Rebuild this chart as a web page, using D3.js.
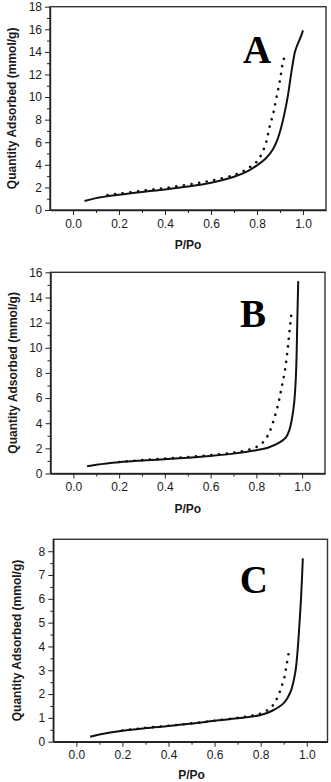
<!DOCTYPE html>
<html lang="en">
<head>
<meta charset="UTF-8">
<title>Isotherms A B C</title>
<style>
  body { margin: 0; background: #fff; }
  svg { display: block; font-family: "Liberation Sans", Arial, sans-serif; }
  .tick text { font-size: 12px; fill: #1a1a1a; }
  .axis path, .axis line { stroke: #222; }
  .ylab, .xlab { font-size: 12px; font-weight: bold; fill: #1a1a1a; }
  .tag { font-family: "Liberation Serif", "Times New Roman", serif; font-weight: bold; font-size: 39px; fill: #000; }
</style>
</head>
<body>
<div id="chart"></div>
<script src="https://d3js.org/d3.v7.min.js"></script>
<script>
// ---- data (P/Po vs quantity adsorbed, mmol/g) ----
const pA_solid = [0.05, 0.1, 0.2, 0.3, 0.4, 0.5, 0.6, 0.7, 0.76, 0.8, 0.84, 0.87, 0.89, 0.905, 0.92, 0.935, 0.945, 0.955, 0.965, 0.975, 0.99, 1.0];
const qA_solid = [0.8, 1.05, 1.35, 1.6, 1.82, 2.08, 2.42, 2.95, 3.45, 3.95, 4.6, 5.4, 6.3, 7.3, 8.6, 10.2, 11.6, 12.9, 14.0, 14.6, 15.3, 15.9];
const pA_dot = [0.15, 0.2, 0.3, 0.4, 0.5, 0.6, 0.7, 0.76, 0.8, 0.82, 0.84, 0.855, 0.87, 0.885, 0.9, 0.912, 0.923];
const qA_dot = [1.32, 1.45, 1.7, 1.95, 2.25, 2.6, 3.1, 3.68, 4.3, 4.95, 6.0, 7.4, 8.5, 10.0, 11.5, 13.0, 13.8];

const pB_solid = [0.06, 0.1, 0.2, 0.3, 0.4, 0.5, 0.6, 0.7, 0.8, 0.85, 0.9, 0.93, 0.945, 0.955, 0.965, 0.972, 0.976, 0.979, 0.983];
const qB_solid = [0.58, 0.7, 0.9, 1.03, 1.14, 1.26, 1.4, 1.58, 1.85, 2.05, 2.45, 2.9, 3.5, 4.3, 5.6, 7.4, 9.5, 12.2, 15.3];
const pB_dot = [0.2, 0.3, 0.4, 0.5, 0.6, 0.7, 0.75, 0.8, 0.83, 0.855, 0.875, 0.895, 0.91, 0.925, 0.935, 0.943, 0.95, 0.955];
const qB_dot = [0.92, 1.06, 1.18, 1.31, 1.46, 1.66, 1.82, 2.1, 2.5, 3.2, 4.2, 5.5, 6.8, 8.2, 9.6, 11.0, 12.2, 13.0];

const pC_solid = [0.06, 0.1, 0.2, 0.3, 0.4, 0.5, 0.6, 0.7, 0.8, 0.85, 0.9, 0.93, 0.95, 0.96, 0.968, 0.975, 0.983];
const qC_solid = [0.21, 0.3, 0.46, 0.57, 0.66, 0.76, 0.88, 0.98, 1.12, 1.3, 1.62, 2.1, 2.9, 3.8, 4.9, 6.0, 7.7];
const pC_dot = [0.2, 0.3, 0.4, 0.5, 0.6, 0.7, 0.75, 0.8, 0.83, 0.855, 0.875, 0.89, 0.903, 0.913, 0.922];
const qC_dot = [0.47, 0.58, 0.67, 0.77, 0.88, 1.0, 1.08, 1.18, 1.33, 1.55, 1.9, 2.3, 2.7, 3.25, 3.75];

const xTicks = [0.0, 0.2, 0.4, 0.6, 0.8, 1.0];
const xMinor = [0.1, 0.3, 0.5, 0.7, 0.9];
const yTicksA = d3.range(0, 19, 2);
const yTicksB = d3.range(0, 17, 2);
const yTicksC = d3.range(0, 9, 1);
const panelTags = ["A", "B", "C"];
const xTitle = "P/Po";
const yTitle = "Quantity Adsorbed (mmol/g)";

// panel frames in pixels
const panels = [
  { tag: panelTags[0], left: 50, right: 326, top: 6.7, bottom: 210, xMax: 1.1, yMax: 18,
    yTicks: yTicksA, yMinor: d3.range(1, 18, 2), tagAt: [0.80, 13.0],
    solid: [pA_solid, qA_solid], dot: [pA_dot, qA_dot], ylabX: 12, xlabDy: 39 },
  { tag: panelTags[1], left: 50.5, right: 325, top: 272.3, bottom: 473.5, xMax: 1.1, yMax: 16,
    yTicks: yTicksB, yMinor: d3.range(1, 16, 2), tagAt: [0.785, 11.65],
    solid: [pB_solid, qB_solid], dot: [pB_dot, qB_dot], ylabX: 13, xlabDy: 39 },
  { tag: panelTags[2], left: 53.3, right: 327.5, top: 539.3, bottom: 741.7, xMax: 1.09, yMax: 8.5,
    yTicks: yTicksC, yMinor: d3.range(0.5, 8.5, 1), tagAt: [0.77, 6.25],
    solid: [pC_solid, qC_solid], dot: [pC_dot, qC_dot], ylabX: 17, xlabDy: 37 }
];

const W = 331, H = 782;
const svg = d3.select("#chart").append("svg")
  .attr("width", W).attr("height", H);

panels.forEach(pn => {
  const x = d3.scaleLinear().domain([-0.1, pn.xMax]).range([pn.left, pn.right]);
  const y = d3.scaleLinear().domain([0, pn.yMax]).range([pn.bottom, pn.top]);
  const g = svg.append("g");

  // frame
  g.append("rect")
    .attr("x", pn.left).attr("y", pn.top)
    .attr("width", pn.right - pn.left).attr("height", pn.bottom - pn.top)
    .attr("fill", "none").attr("stroke", "#333").attr("stroke-width", 1.4);

  // x axis major + minor
  g.append("g").attr("class", "axis")
    .attr("transform", `translate(0,${pn.bottom})`)
    .call(d3.axisBottom(x).tickValues(xTicks).tickSize(5).tickSizeOuter(0).tickPadding(4)
      .tickFormat(d3.format(".1f")))
    .call(a => a.select(".domain").attr("stroke-width", 1.4));
  g.append("g").attr("class", "axis")
    .attr("transform", `translate(0,${pn.bottom})`)
    .call(d3.axisBottom(x).tickValues(xMinor).tickSize(3).tickSizeOuter(0).tickFormat(""))
    .call(a => a.select(".domain").remove());

  // y axis major + minor
  g.append("g").attr("class", "axis")
    .attr("transform", `translate(${pn.left},0)`)
    .call(d3.axisLeft(y).tickValues(pn.yTicks).tickSize(5).tickSizeOuter(0).tickPadding(3)
      .tickFormat(d3.format("d")))
    .call(a => a.select(".domain").attr("stroke-width", 1.4));
  g.append("g").attr("class", "axis")
    .attr("transform", `translate(${pn.left},0)`)
    .call(d3.axisLeft(y).tickValues(pn.yMinor).tickSize(3).tickSizeOuter(0).tickFormat(""))
    .call(a => a.select(".domain").remove());

  // titles
  g.append("text").attr("class", "xlab")
    .attr("x", (x(0) + x(1)) / 2).attr("y", pn.bottom + pn.xlabDy)
    .attr("text-anchor", "middle").text(xTitle);
  g.append("text").attr("class", "ylab")
    .attr("transform", `translate(${pn.ylabX},${(pn.top + pn.bottom) / 2}) rotate(-90)`)
    .attr("text-anchor", "middle").attr("dy", "0.35em").text(yTitle);

  // curves
  const line = d3.line().x(d => x(d[0])).y(d => y(d[1])).curve(d3.curveCatmullRom);
  const solid = d3.zip(pn.solid[0], pn.solid[1]);
  const dots = d3.zip(pn.dot[0], pn.dot[1]);

  // dotted branch
  g.append("path").datum(dots)
    .attr("d", line)
    .attr("fill", "none").attr("stroke", "#111").attr("stroke-width", 2.6)
    .attr("stroke-linecap", "round").attr("stroke-dasharray", "0.1,7.6");

  // solid branch
  g.append("path").datum(solid)
    .attr("d", line)
    .attr("fill", "none").attr("stroke", "#111").attr("stroke-width", 2);

  // panel letter
  g.append("text").attr("class", "tag")
    .attr("x", x(pn.tagAt[0])).attr("y", y(pn.tagAt[1]))
    .attr("text-anchor", "middle").text(pn.tag);
});
</script>
</body>
</html>
